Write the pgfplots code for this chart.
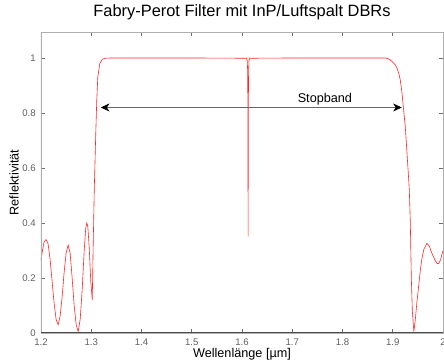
\documentclass[border=0pt]{standalone}
\usepackage{fontspec}
\setmainfont{Liberation Sans}
\usepackage{pgfplots}
\pgfplotsset{compat=1.18}
\usetikzlibrary{arrows.meta}
\definecolor{axgray}{RGB}{110,110,110}
\definecolor{boxgray}{RGB}{175,175,175}
\definecolor{tickgray}{RGB}{95,95,95}
\begin{document}
\begin{tikzpicture}
\begin{axis}[
  at={(0,0)}, anchor=south west,
  scale only axis,
  width=301.5pt, height=225.75pt,
  xmin=1.2, xmax=2, ymin=0, ymax=1.0945,
  xtick={1.2,1.3,1.4,1.5,1.6,1.7,1.8,1.9,2},
  xticklabels={1.2,1.3,1.4,1.5,1.6,1.7,1.8,1.9,2},
  ytick={0,0.2,0.4,0.6,0.8,1},
  yticklabels={0,0.2,0.4,0.6,0.8,1},
  tick align=inside,
  major tick length=3pt,
  tick style={axgray, line width=0.6pt},
  axis line style={boxgray, line width=0.6pt},
  ticklabel style={font=\fontsize{7.2}{8}\selectfont, text=tickgray, inner sep=0pt},
  xticklabel style={anchor=base, yshift=-9.75pt},
  yticklabel style={anchor=east, xshift=-3.75pt},
  title={Fabry-Perot Filter mit InP/Luftspalt DBRs},
  title style={at={(axis description cs:0.5,1)}, anchor=base, yshift=5.25pt, font=\fontsize{12.3}{14}\selectfont, inner sep=0pt},
  xlabel={Wellenlänge [µm]},
  every axis x label/.style={at={(axis description cs:0.5,0)}, anchor=base, yshift=-18.75pt, font=\fontsize{9.5}{11}\selectfont, inner sep=0pt},
  ylabel={Reflektivität},
  every axis y label/.style={at={(axis description cs:0,0.5)}, xshift=-20.25pt, rotate=90, anchor=center, font=\fontsize{9.5}{11}\selectfont, inner sep=0pt},
]
\addplot[red!85!white, line width=0.45pt] coordinates {
(1.200,0.265) (1.203,0.30) (1.206,0.33) (1.210,0.34) (1.214,0.325) (1.218,0.27)
(1.222,0.19) (1.226,0.11) (1.230,0.05) (1.234,0.03) (1.238,0.06) (1.242,0.13)
(1.246,0.22) (1.250,0.29) (1.254,0.32) (1.258,0.29) (1.262,0.20) (1.266,0.10)
(1.270,0.03) (1.274,0.005) (1.278,0.05) (1.282,0.16) (1.286,0.30) (1.289,0.38)
(1.291,0.40) (1.293,0.39) (1.296,0.31) (1.299,0.19) (1.302,0.12) (1.304,0.33)
(1.306,0.52) (1.309,0.727) (1.311,0.847) (1.313,0.93) (1.317,0.98) (1.322,0.995)
(1.327,0.999) (1.340,1.0) (1.500,1.0) (1.609,0.999) (1.6105,0.99) (1.6113,0.95)
(1.6118,0.80) (1.6122,0.35) (1.6126,0.80) (1.6131,0.95) (1.6139,0.99) (1.6155,0.999)
(1.700,1.0) (1.885,1.0) (1.890,0.998) (1.895,0.993) (1.900,0.985) (1.905,0.975)
(1.908,0.965) (1.912,0.945) (1.915,0.92) (1.918,0.88) (1.921,0.823) (1.925,0.75)
(1.928,0.665) (1.931,0.58) (1.933,0.52) (1.935,0.40) (1.937,0.20) (1.939,0.08)
(1.942,0.005) (1.945,0.05) (1.948,0.11) (1.951,0.16) (1.955,0.23) (1.958,0.27)
(1.962,0.305) (1.968,0.326) (1.973,0.315) (1.978,0.29) (1.984,0.265) (1.988,0.253)
(1.991,0.252) (1.995,0.265) (2.000,0.30)
};
\draw[boxgray, line width=1.3pt] (rel axis cs:0,0) -- (rel axis cs:0,1);
\draw[black!70, line width=0.8pt] (rel axis cs:0,0) -- (rel axis cs:1,0);
\draw[black!60, line width=0.5pt, {Stealth[black,length=6.5pt,width=6pt,inset=2pt]}-{Stealth[black,length=6.5pt,width=6pt,inset=2pt]}] (axis cs:1.319,0.82) -- (axis cs:1.918,0.82);
\node[font=\fontsize{9.5}{11}\selectfont, anchor=base, inner sep=0pt] at (axis cs:1.765,0.838) {Stopband};
\end{axis}
\pgfresetboundingbox
\useasboundingbox (-30.75pt,-22.5pt) rectangle (302.25pt,249.75pt);
\end{tikzpicture}
\end{document}
